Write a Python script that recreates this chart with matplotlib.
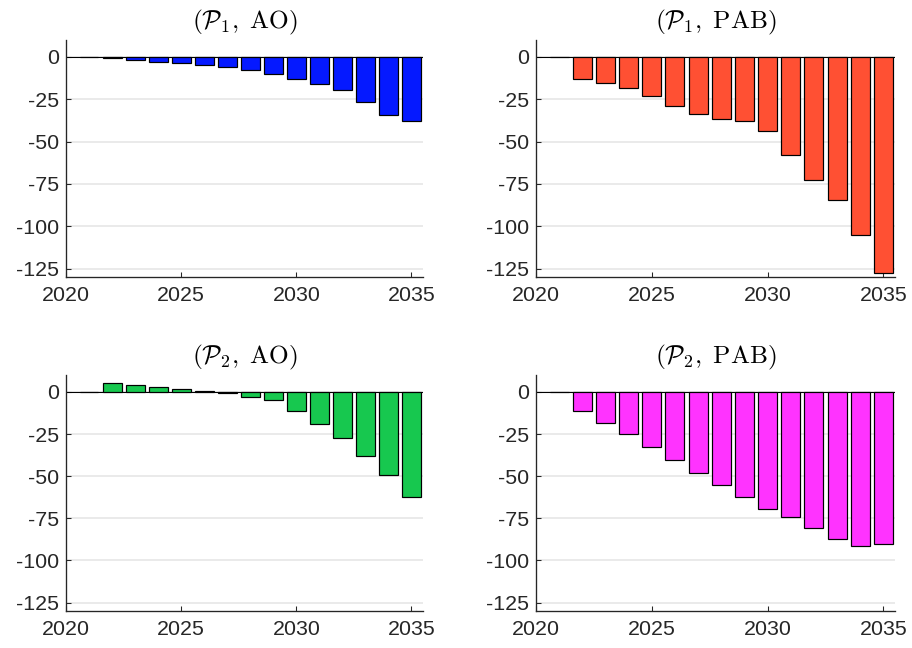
import numpy as np
import matplotlib
matplotlib.use("Agg")
import matplotlib.pyplot as plt

plt.rcParams["font.family"] = ["Liberation Sans", "DejaVu Sans"]
plt.rcParams["mathtext.fontset"] = "cm"

years = list(range(2021, 2036))

p1_ao = [0, -0.6, -1.6, -3.0, -3.8, -4.8, -5.7, -7.5, -9.9, -12.9,
         -16.2, -19.8, -26.5, -34.5, -37.6]
p1_pab = [0, -12.9, -15.6, -18.4, -22.8, -28.7, -33.9, -36.4, -37.6, -43.6,
          -58.0, -72.5, -84.8, -105.1, -127.7]
p2_ao = [0, 5.0, 4.2, 3.0, 1.6, 0.6, -0.8, -2.8, -4.6, -11.1,
         -19.0, -27.3, -38.0, -49.5, -62.2]
p2_pab = [0, -11.1, -18.2, -25.2, -32.7, -40.4, -47.9, -55.3, -62.2, -69.3,
          -74.3, -80.8, -87.0, -91.3, -90.1]

titles = [r"$(\mathcal{P}_1,\ \mathrm{AO})$", r"$(\mathcal{P}_1,\ \mathrm{PAB})$",
          r"$(\mathcal{P}_2,\ \mathrm{AO})$", r"$(\mathcal{P}_2,\ \mathrm{PAB})$"]
colors = ["#0519FF", "#FF5033", "#17C84F", "#FF33FF"]
series = [p1_ao, p1_pab, p2_ao, p2_pab]

y_ticks = [0, -25, -50, -75, -100, -125]
x_ticks = [2020, 2025, 2030, 2035]

W, H = 912, 648
fig = plt.figure(figsize=(W / 96, H / 96), dpi=96)

# axes boxes in pixels: left, top, right, bottom
boxes = [(66, 40, 423, 277), (536, 40, 895, 277),
         (66, 375, 423, 611), (536, 375, 895, 611)]

axis_col = "#262626"

for box, vals, col, title in zip(boxes, series, colors, titles):
    l, t, r, b = box
    ax = fig.add_axes([l / W, 1 - b / H, (r - l) / W, (b - t) / H])
    ax.bar(years, vals, width=0.82, color=col, edgecolor="black",
           linewidth=0.9, zorder=3)
    ax.axhline(0, color="black", linewidth=0.8, zorder=2)
    ax.set_xlim(2020, 2035.5)
    ax.set_ylim(-130, 10)
    ax.set_yticks(y_ticks)
    ax.set_yticklabels([str(v) for v in y_ticks])
    ax.set_xticks(x_ticks)
    ax.grid(axis="y", color="#e6e6e6", linewidth=1.2, zorder=0)
    ax.spines["top"].set_visible(False)
    ax.spines["right"].set_visible(False)
    for s in ["left", "bottom"]:
        ax.spines[s].set_color(axis_col)
        ax.spines[s].set_linewidth(1.0)
    ax.tick_params(direction="in", length=4, colors=axis_col,
                   labelsize=16, labelcolor="#262626", pad=5)
    ax.tick_params(axis="x", pad=7)
    ax.set_title(title, fontsize=19, pad=9)

fig.savefig("out.png", dpi=96)
